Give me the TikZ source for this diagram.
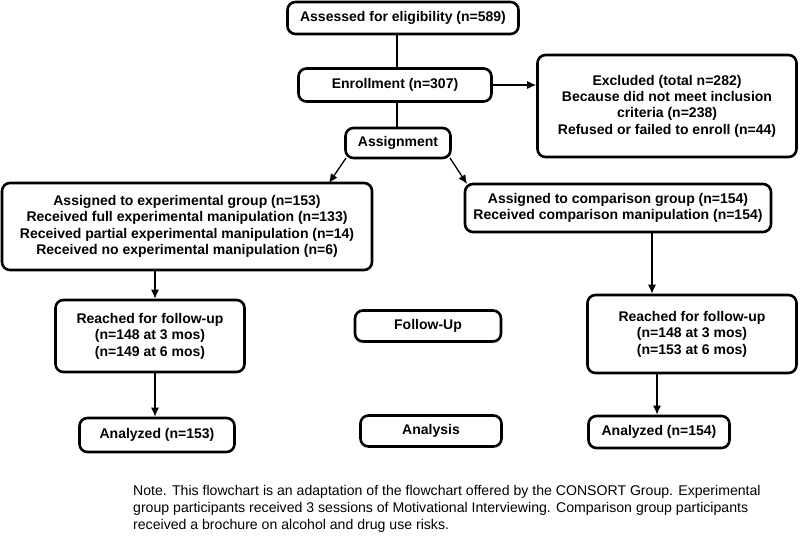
\documentclass[tikz,border=0pt]{standalone}
\usepackage{fontspec}
\setmainfont{Liberation Sans}
\usetikzlibrary{arrows.meta}
\begin{document}
\begin{tikzpicture}[x=1pt,y=-1pt,
  box/.style={draw=black, line width=2.6pt, rounded corners=8pt, align=center,
    font=\fontsize{14}{16.4}\selectfont\bfseries, inner sep=0pt, fill=white},
  conn/.style={line width=1.3pt},
  arr/.style={line width=1.3pt, -{Latex[length=9pt,width=8pt]}}]
\useasboundingbox (0,0) rectangle (800,543);
\node[box, minimum width=231pt, minimum height=32pt] (ass) at (403,18) {Assessed for eligibility (n=589)};
\node[box, minimum width=193pt, minimum height=33pt] (enr) at (395,85) {Enrollment (n=307)};
\node[box, minimum width=259pt, minimum height=102pt] (exc) at (667,106) {Excluded (total n=282)\\Because did not meet inclusion\\criteria (n=238)\\Refused or failed to enroll (n=44)};
\node[box, minimum width=105pt, minimum height=30pt] (asg) at (398,143) {Assignment};
\node[box, minimum width=370pt, minimum height=87pt] (exp) at (187,226.5) {Assigned to experimental group (n=153)\\Received full experimental manipulation (n=133)\\Received partial experimental manipulation (n=14)\\Received no experimental manipulation (n=6)};
\node[box, minimum width=306pt, minimum height=48pt] (cmp) at (618,208) {Assigned to comparison group (n=154)\\Received comparison manipulation (n=154)};
\node[box, minimum width=189pt, minimum height=72pt] (fu1) at (150,336) {Reached for follow-up\\(n=148 at 3 mos)\\(n=149 at 6 mos)};
\node[box, minimum width=146pt, minimum height=31pt] (ful) at (428,326) {Follow-Up};
\node[box, minimum width=209pt, minimum height=78pt] (fu2) at (692,334) {Reached for follow-up\\(n=148 at 3 mos)\\(n=153 at 6 mos)};
\node[box, minimum width=155pt, minimum height=34pt] (an1) at (157,435) {Analyzed (n=153)};
\node[box, minimum width=141pt, minimum height=31pt] (anl) at (431,431) {Analysis};
\node[box, minimum width=141pt, minimum height=32pt] (an2) at (659,432) {Analyzed (n=154)};
\node[anchor=base west, align=left, inner sep=0pt, font=\fontsize{14.1}{17}\selectfont] (note) at (133,529) {Note. This flowchart is an adaptation of the flowchart offered by the CONSORT Group. Experimental\\group participants received 3 sessions of Motivational Interviewing. Comparison group participants\\received a brochure on alcohol and drug use risks.};
\coordinate (c1) at (397,34);
\coordinate (c2) at (397,68);
\coordinate (c3) at (397,101);
\coordinate (c4) at (397,128);
\coordinate (d1) at (346,158);
\coordinate (d2) at (329,183);
\coordinate (d3) at (450,158);
\coordinate (d4) at (467,184);
\draw[conn] (c1) -- (c2);
\draw[conn] (c3) -- (c4);
\draw[arr] (enr.east) -- (exc.west |- enr.east);
\draw[arr] (d1) -- (d2);
\draw[arr] (d3) -- (d4);
\draw[arr] (exp.south -| 155,0) -- (fu1.north -| 155,0);
\draw[arr] (fu1.south -| 155,0) -- (an1.north -| 155,0);
\draw[arr] (cmp.south -| 652,0) -- (fu2.north -| 652,0);
\draw[arr] (fu2.south -| 657,0) -- (an2.north -| 657,0);
\end{tikzpicture}
\end{document}
